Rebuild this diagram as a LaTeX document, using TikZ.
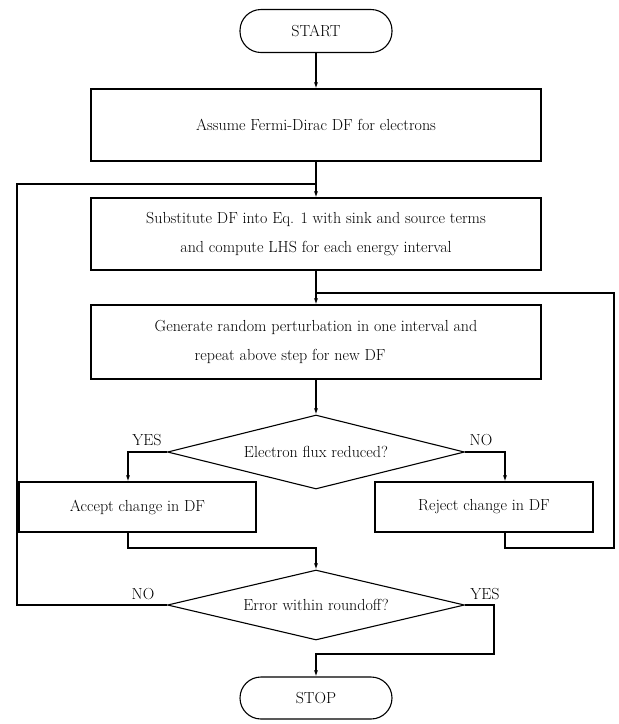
\documentclass[tikz,border=0pt]{standalone}
\usepackage{tikz}
\usetikzlibrary{arrows.meta,shapes.geometric}

\begin{document}
\begin{tikzpicture}[x=1pt,y=-1pt,line width=1.1pt,>={Latex[length=6pt,width=4pt]},
	every node/.style={font=\fontsize{16}{29}\selectfont},
	box/.style={draw,rectangle,inner sep=0pt},
	term/.style={draw,rectangle,rounded corners=21pt,minimum width=152pt,minimum height=43pt,inner sep=0pt},
	test/.style={draw,diamond,shape aspect=4,minimum width=297pt,inner sep=0pt}]
	\useasboundingbox (0,0) rectangle (619,724);
	\node[term] (start) at (316,31) {START};
	\node[box,minimum width=450pt,minimum height=72pt] (assume) at (316,125) {Assume Fermi-Dirac DF for electrons};
	\node[box,minimum width=450pt,minimum height=72pt,align=center] (subst) at (316,234) {Substitute DF into Eq. 1 with sink and source terms\\and compute LHS for each energy interval};
	\node[box,minimum width=450pt,minimum height=74pt,align=left] (perturb) at (316,342) {Generate random perturbation in one interval and\\\hspace*{40pt}repeat above step for new DF};
	\node[test,minimum height=74pt] (flux) at (316,452) {Electron flux reduced?};
	\node[box,minimum width=237pt,minimum height=50pt] (accept) at (137.5,507) {Accept change in DF};
	\node[box,minimum width=218pt,minimum height=50pt] (reject) at (484,507) {Reject change in DF};
	\node[test,minimum height=70pt] (error) at (316,605) {Error within roundoff?};
	\node[term,minimum height=42pt] (stop) at (316,698) {STOP};
	\node (yes1) at (147,440) {YES};
	\node (no1) at (481,440) {NO};
	\node (no2) at (143,594) {NO};
	\node (yes2) at (485,594) {YES};
	\coordinate (ja) at (316,184);
	\coordinate (jb) at (316,293);
	\coordinate (jc) at (316,548);
	\coordinate (jd) at (316,654);
	\coordinate (ll) at (17,184);
	\coordinate (rr) at (614,548);
	\coordinate (lr) at (494,654);
	\draw[->] (start) -- (assume);
	\draw (assume) -- (ja);
	\draw[->] (ja) -- (subst);
	\draw (subst) -- (jb);
	\draw[->] (jb) -- (perturb);
	\draw[->] (perturb) -- (flux);
	\draw[->] (flux.west) -| ([xshift=-9.5pt]accept.north);
	\draw[->] (flux.east) -| ([xshift=21pt]reject.north);
	\draw[->] ([xshift=-9.5pt]accept.south) |- (jc) -- (error);
	\draw ([xshift=21pt]reject.south) |- (rr) |- (jb);
	\draw (error.west) -| (ll) -- (ja);
	\draw[->] (error.east) -| (lr) -- (jd) -- (stop);
\end{tikzpicture}
\end{document}
